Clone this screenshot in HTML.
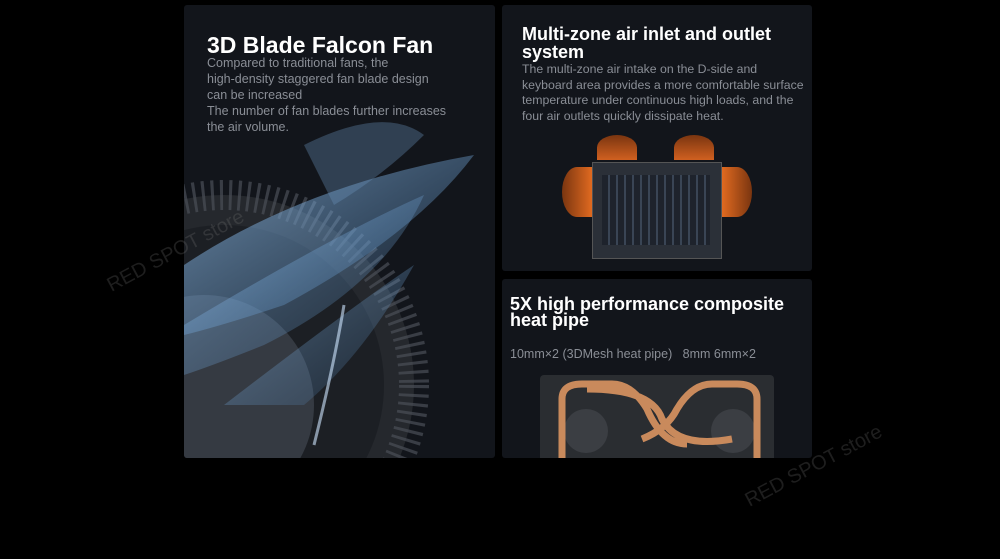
<!DOCTYPE html>
<html><head><meta charset="utf-8"><style>
body{margin:0;width:1000px;height:559px;background:#000;position:relative;overflow:hidden;font-family:"Liberation Sans",sans-serif}
.p{position:absolute;background:#12151b;border-radius:3px;overflow:hidden}
.t{position:absolute;color:#fff;font-weight:bold;line-height:18px}
.d{position:absolute;color:#8a8e96;font-size:12.5px;line-height:16px}
.wm{position:absolute;color:rgba(120,120,120,.25);font-size:20px;transform:rotate(-28deg)}
</style></head><body>
<div class="p" style="left:184px;top:5px;width:311px;height:453px">
<svg width="311" height="453" style="position:absolute;left:0;top:0">
<defs><linearGradient id="b" x1="0" y1="0" x2="1" y2="1"><stop offset="0" stop-color="#9fd0ff" stop-opacity=".9"/><stop offset="1" stop-color="#3a6a9a" stop-opacity=".3"/></linearGradient></defs>
<circle cx="40" cy="380" r="190" fill="#25282d"/>
<circle cx="40" cy="380" r="190" fill="none" stroke="#4a4f57" stroke-width="30" stroke-dasharray="3 6" opacity=".7"/>
<circle cx="40" cy="380" r="160" fill="#1c1f24"/>
<circle cx="20" cy="400" r="110" fill="#353a42"/>
<path d="M0 260 Q120 180 290 150 Q230 230 100 300 Q40 320 0 330Z" fill="url(#b)" opacity=".7"/>
<path d="M0 320 Q150 230 240 190 Q200 280 80 340 Q30 360 0 370Z" fill="url(#b)" opacity=".55"/>
<path d="M40 400 Q170 300 230 260 Q180 350 120 400Z" fill="url(#b)" opacity=".5"/>
<path d="M120 140 Q200 100 240 130 Q200 170 150 200Z" fill="#6a93bb" opacity=".35"/>
<path d="M130 440 Q150 360 160 300" stroke="#cfe6ff" stroke-width="3" fill="none" opacity=".6"/>
</svg>
<div class="t" style="left:23px;top:27px;font-size:23px;line-height:26px">3D Blade Falcon Fan</div>
<div class="d" style="left:23px;top:50px">Compared to traditional fans, the<br>high-density staggered fan blade design<br>can be increased<br>The number of fan blades further increases<br>the air volume.</div>
</div>
<div class="p" style="left:502px;top:5px;width:310px;height:266px">
<div class="t" style="left:20px;top:20px;font-size:18px">Multi-zone air inlet and outlet<br>system</div>
<div class="d" style="left:20px;top:57px;font-size:12.3px;line-height:15.5px;white-space:nowrap">The multi-zone air intake on the D-side and<br>keyboard area provides a more comfortable surface<br>temperature under continuous high loads, and the<br>four air outlets quickly dissipate heat.</div>
<div style="position:absolute;left:90px;top:157px;width:128px;height:95px;background:#2b3038;border:1px solid #555"></div>
<div style="position:absolute;left:100px;top:170px;width:108px;height:70px;background:repeating-linear-gradient(90deg,#1b2029 0 6px,#3d4a5c 6px 8px);opacity:.8"></div>
<div style="position:absolute;left:60px;top:162px;width:30px;height:50px;background:linear-gradient(90deg,#7a3510,#e06a20);border-radius:50% 0 0 50%"></div>
<div style="position:absolute;left:220px;top:162px;width:30px;height:50px;background:linear-gradient(270deg,#7a3510,#e06a20);border-radius:0 50% 50% 0"></div>
<div style="position:absolute;left:95px;top:130px;width:40px;height:25px;background:linear-gradient(#7a3510,#d06020);border-radius:50% 50% 0 0"></div>
<div style="position:absolute;left:172px;top:130px;width:40px;height:25px;background:linear-gradient(#7a3510,#d06020);border-radius:50% 50% 0 0"></div>
</div>
<div class="p" style="left:502px;top:279px;width:310px;height:179px">
<div class="t" style="left:8px;top:17px;font-size:18px;line-height:16px">5X high performance composite<br>heat pipe</div>
<div class="d" style="left:8px;top:67px;font-size:12.5px;white-space:nowrap">10mm×2 (3DMesh heat pipe)&nbsp;&nbsp; 8mm 6mm×2</div>
<div style="position:absolute;left:38px;top:96px;width:234px;height:90px;background:#2a2d31;border-radius:4px"></div>
<svg width="310" height="179" style="position:absolute;left:0;top:0">
<circle cx="84" cy="152" r="22" fill="#3b3e43"/><circle cx="231" cy="152" r="22" fill="#3b3e43"/>
<path d="M60 180 V120 Q60 105 80 105 H110 Q130 105 145 130 Q160 165 185 165 M85 110 Q150 110 160 140 Q175 170 230 160 M255 180 V120 Q255 105 235 105 H210 Q190 105 175 130 Q165 150 140 160" stroke="#c98a5c" stroke-width="7" fill="none"/>
</svg>
</div>
<div class="wm" style="left:100px;top:240px">RED SPOT store</div>
<div class="wm" style="left:738px;top:455px">RED SPOT store</div>
</body></html>
